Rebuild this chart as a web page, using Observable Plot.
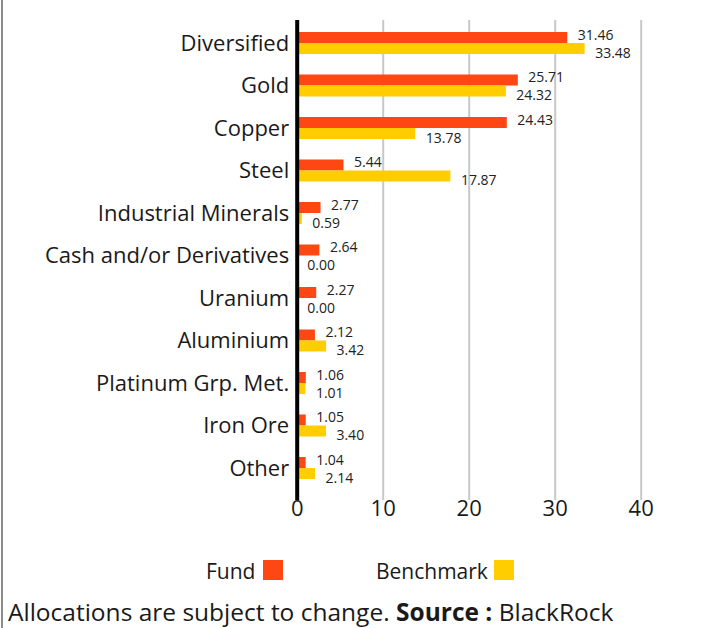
<!DOCTYPE html>
<html>
<head>
<meta charset="utf-8">
<script src="https://cdn.jsdelivr.net/npm/d3@7"></script>
<script src="https://cdn.jsdelivr.net/npm/@observablehq/plot@0.6"></script>
<style>
  html, body { margin: 0; padding: 0; background: #fff; }
  body { width: 718px; height: 628px; overflow: hidden; position: relative; font-family: "Open Sans", "Noto Sans", sans-serif; color: #1a1a1a; }
  #border { position: absolute; left: 1px; top: 0; width: 2px; height: 628px; background: #8c8c8c; }
  #chart { position: absolute; left: 0; top: 0; }
  .leg { position: absolute; font-size: 21px; line-height: 1; }
  .sw { position: absolute; width: 20px; height: 20px; }
  #foot { position: absolute; left: 8px; top: 595px; font-size: 24.5px; white-space: nowrap; }
</style>
</head>
<body>
<div id="border"></div>
<div id="chart"></div>
<div class="leg" style="left:206px; top:561px;">Fund</div>
<div class="sw" style="left:263px; top:560px; background:#FF4713;"></div>
<div class="leg" style="left:376px; top:561px;">Benchmark</div>
<div class="sw" style="left:494px; top:560px; background:#FFCD00;"></div>
<div id="foot">Allocations are subject to change. <b>Source :</b> BlackRock</div>
<script>
const categories = ["Diversified", "Gold", "Copper", "Steel", "Industrial Minerals", "Cash and/or Derivatives", "Uranium", "Aluminium", "Platinum Grp. Met.", "Iron Ore", "Other"];
const fund = [31.46, 25.71, 24.43, 5.44, 2.77, 2.64, 2.27, 2.12, 1.06, 1.05, 1.04];
const benchmark = [33.48, 24.32, 13.78, 17.87, 0.59, 0.00, 0.00, 3.42, 1.01, 3.40, 2.14];
const xTicks = [0, 10, 20, 30, 40];

const fundRows = categories.map((c, i) => ({category: c, value: fund[i]}));
const benchRows = categories.map((c, i) => ({category: c, value: benchmark[i]}));

const chart = Plot.plot({
  width: 718,
  height: 530,
  marginLeft: 296.7,
  marginRight: 77.3,
  marginTop: 20,
  marginBottom: 30,
  style: {fontFamily: '"Open Sans", "Noto Sans", sans-serif', color: "#1a1a1a", background: "transparent"},
  x: {domain: [0, 40]},
  y: {type: "band", domain: categories, range: [21.75, 489.25], padding: 0, round: false},
  marks: [
    Plot.ruleX(xTicks.slice(1), {stroke: "#c8c8c8", strokeWidth: 2, strokeOpacity: 1}),
    Plot.barX(fundRows, {x: "value", y: "category", fill: "#FF4713", insetTop: 10.25, insetBottom: 21.25, insetLeft: 2}),
    Plot.barX(benchRows, {x: "value", y: "category", fill: "#FFCD00", insetTop: 21.25, insetBottom: 10.25, insetLeft: 2}),
    Plot.text(fundRows, {x: "value", y: "category", text: d => d.value.toFixed(2), dx: 10, dy: -8, textAnchor: "start", fontSize: 14, fill: "#222"}),
    Plot.text(benchRows, {x: "value", y: "category", text: d => d.value.toFixed(2), dx: 10, dy: 10, textAnchor: "start", fontSize: 14, fill: "#222"}),
    Plot.ruleX([0], {stroke: "#000", strokeWidth: 4}),
    Plot.axisX({ticks: xTicks, tickSize: 0, tickPadding: 0, fontSize: 22, tickFormat: d => String(d), label: null}),
    Plot.axisY({tickSize: 0, tickPadding: 8, fontSize: 22, label: null})
  ]
});
document.getElementById("chart").appendChild(chart);
</script>
</body>
</html>
